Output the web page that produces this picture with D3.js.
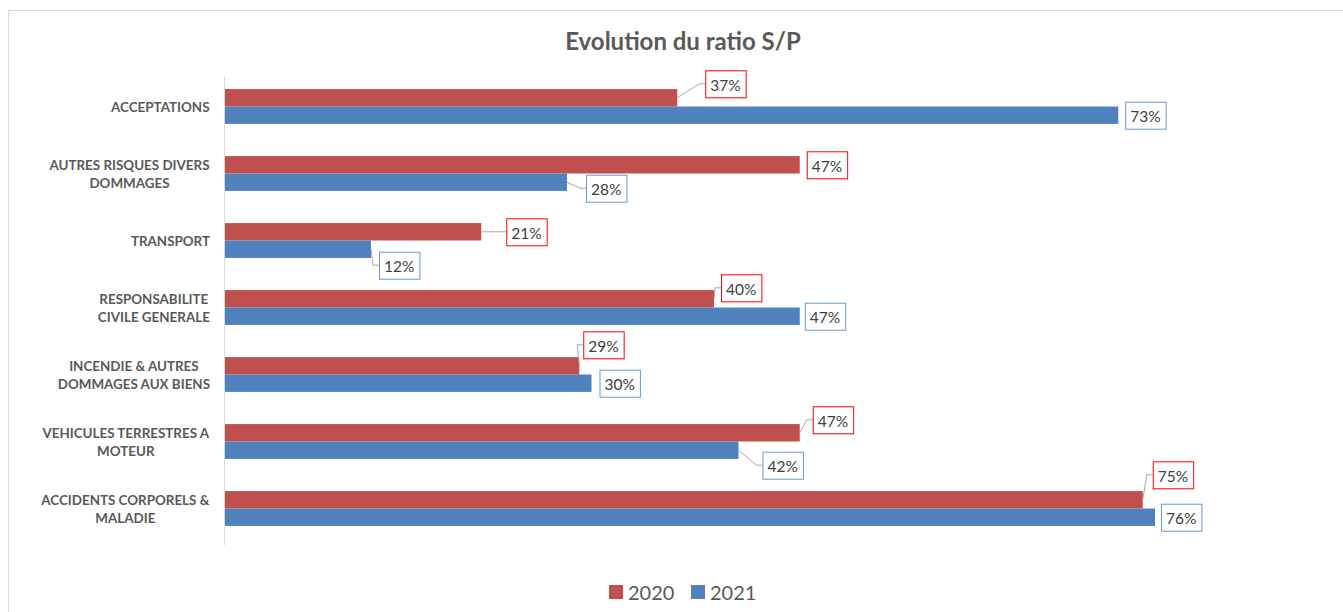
<!DOCTYPE html>
<html>
<head>
<meta charset="utf-8">
<script src="https://cdn.jsdelivr.net/npm/d3@7"></script>
<style>
  body { margin: 0; background: #fff; }
  svg { display: block; font-family: Lato, "Open Sans", sans-serif; }
</style>
</head>
<body>
<svg width="1343" height="612"></svg>
<script>
// ratio S/P par branche, 2020 vs 2021

var categories = [
    "ACCEPTATIONS",
    "AUTRES RISQUES DIVERS\nDOMMAGES",
    "TRANSPORT",
    "RESPONSABILITE\nCIVILE GENERALE",
    "INCENDIE & AUTRES\nDOMMAGES AUX BIENS",
    "VEHICULES TERRESTRES A\nMOTEUR",
    "ACCIDENTS CORPORELS &\nMALADIE"
];
var years = ["2020", "2021"];
var values2020 = [0.37, 0.47, 0.21, 0.40, 0.29, 0.47, 0.75];
var values2021 = [0.73, 0.28, 0.12, 0.47, 0.30, 0.42, 0.76];

// labels were dragged around by hand in the original, [dx, dy] from default spot
var labelShift2020 = [[24, -14], [3, 0], [21, 0], [3, -11], [0, -21], [9, -13], [6, -25]];
var labelShift2021 = [[3, 0], [15, 6], [4, 16], [1, 0], [4, 0], [20, 15], [2, 0]];

var colors = { "2020": "#C0504D", "2021": "#4F81BD" };
var boxColors = { "2020": "#FF0000", "2021": "#6A97D0" };

var svg = d3.select('svg');
var svgWidth = +svg.attr('width');
var svgHeight = +svg.attr('height');

// chart frame
svg.append('rect')
    .attr('x', 8.5).attr('y', 10.5)
    .attr('width', svgWidth).attr('height', svgHeight)
    .attr('fill', 'none')
    .attr('stroke', '#d9d9d9');

svg.append('text')
    .attr('x', 683).attr('y', 40)
    .attr('text-anchor', 'middle')
    .attr('dominant-baseline', 'central')
    .style('font-size', '24px')
    .style('font-weight', 'bold')
    .attr('fill', '#595959')
    .text('Evolution du ratio S/P');

var xScale = d3.scaleLinear().domain([0, 0.8]).range([224, 1204]);

var yScale = d3.scaleBand()
    .domain(categories)
    .range([73, 542])
    .paddingInner(0.48)
    .paddingOuter(0.24);

var yearScale = d3.scaleBand().domain(years).range([0, yScale.bandwidth()]);

// flatten into one row per bar
var rows = [];
categories.forEach(function (c, i) {
    rows.push({ cat: c, year: "2020", value: values2020[i], shift: labelShift2020[i] });
    rows.push({ cat: c, year: "2021", value: values2021[i], shift: labelShift2021[i] });
});

// axis line
svg.append('line')
    .attr('x1', xScale(0) + 0.5).attr('x2', xScale(0) + 0.5)
    .attr('y1', 77).attr('y2', 545)
    .attr('stroke', '#d9d9d9');

// category labels
var catG = svg.append('g');
categories.forEach(function (c) {
    var lines = c.split("\n");
    var cy = yScale(c) + yScale.bandwidth() / 2;
    var t = catG.append('text')
        .attr('fill', '#595959')
        .style('font-size', '13.4px')
        .style('font-weight', 'bold')
        .attr('text-anchor', 'middle');
    lines.forEach(function (l, k) {
        t.append('tspan')
            .attr('x', 0)
            .attr('y', cy + (k - (lines.length - 1) / 2) * 18)
            .attr('dominant-baseline', 'central')
            .text(l);
    });
    var w = t.node().getBBox().width;
    t.selectAll('tspan').attr('x', 210 - w / 2);
});

// bars
svg.append('g').selectAll('rect')
    .data(rows)
    .enter()
    .append('rect')
    .attr('x', xScale(0) + 1)
    .attr('y', function (d) { return yScale(d.cat) + yearScale(d.year); })
    .attr('width', function (d) { return xScale(d.value) - xScale(0) - 1; })
    .attr('height', yearScale.bandwidth())
    .attr('fill', function (d) { return colors[d.year]; });

// data labels with leader lines
var fmt = d3.format('.0%');
var labelG = svg.append('g');
rows.forEach(function (d) {
    var xe = xScale(d.value);
    var yc = yScale(d.cat) + yearScale(d.year) + yearScale.bandwidth() / 2;
    var g = labelG.append('g');
    var t = g.append('text')
        .attr('fill', '#404040')
        .style('font-size', '15.5px')
        .attr('dominant-baseline', 'central')
        .text(fmt(d.value));
    var tw = t.node().getComputedTextLength();
    var bw = tw + 10, bh = 27;
    var bx = xe + 4 + d.shift[0];
    var by = yc + d.shift[1];
    t.attr('x', bx + 5).attr('y', by + 1);
    g.insert('rect', 'text')
        .attr('x', bx + 0.5).attr('y', by - bh / 2 + 0.5)
        .attr('width', bw).attr('height', bh)
        .attr('fill', '#fff')
        .attr('stroke', boxColors[d.year]);
    if (Math.abs(d.shift[1]) > 3 || d.shift[0] > 8) {
        labelG.insert('polyline', 'g')
            .attr('points', [[xe, yc], [bx - 6, by], [bx, by]].map(function (p) { return p.join(','); }).join(' '))
            .attr('fill', 'none')
            .attr('stroke', '#a6a6a6')
            .attr('stroke-width', 1);
    }
});

// legend
var legend = svg.append('g');
var legendX = [609, 691];
years.forEach(function (y, i) {
    legend.append('rect')
        .attr('x', legendX[i]).attr('y', 585)
        .attr('width', 14).attr('height', 14)
        .attr('fill', colors[y]);
    legend.append('text')
        .attr('x', legendX[i] + 19).attr('y', 592)
        .attr('dominant-baseline', 'central')
        .attr('fill', '#595959')
        .style('font-size', '20px')
        .text(y);
});
</script>
</body>
</html>
